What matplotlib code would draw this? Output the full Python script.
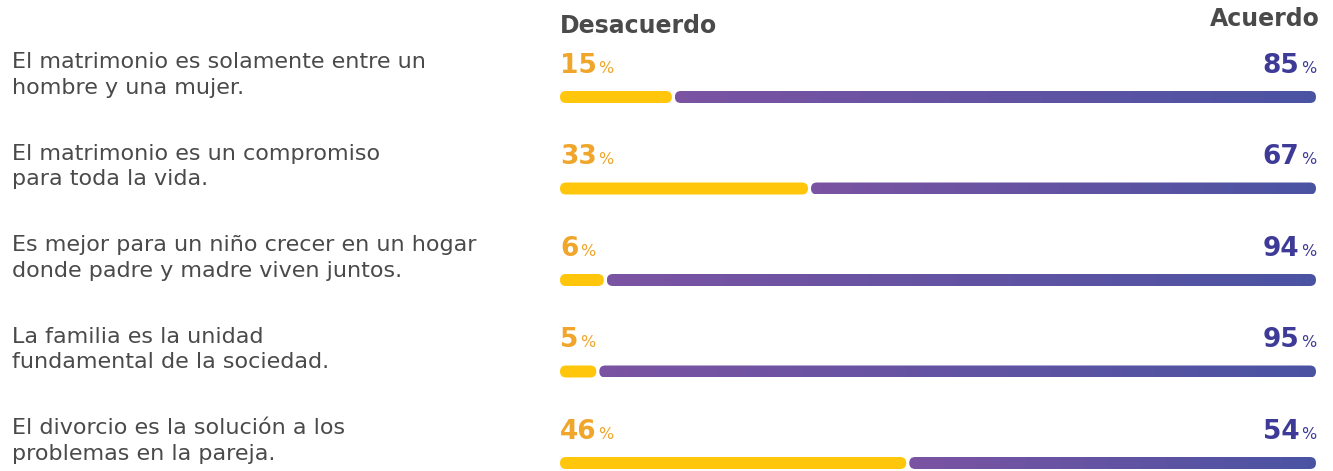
import matplotlib
matplotlib.use("Agg")
import matplotlib.pyplot as plt
import numpy as np
from matplotlib.patches import FancyBboxPatch
from matplotlib.colors import LinearSegmentedColormap
from matplotlib.offsetbox import TextArea, HPacker, AnnotationBbox
from matplotlib.transforms import blended_transform_factory

# Survey statements (two lines each) and answer shares in percent
statements = [
    "El matrimonio es solamente entre un\nhombre y una mujer.",
    "El matrimonio es un compromiso\npara toda la vida.",
    "Es mejor para un niño crecer en un hogar\ndonde padre y madre viven juntos.",
    "La familia es la unidad\nfundamental de la sociedad.",
    "El divorcio es la solución a los\nproblemas en la pareja.",
]
desacuerdo = [15, 33, 6, 5, 46]
acuerdo = [85, 67, 94, 95, 54]
header_left = "Desacuerdo"
header_right = "Acuerdo"

W, H = 1333, 471
DPI = 100
YELLOW = "#FFC60B"
YELLOW_TXT = "#F0A52B"
PURPLE_TXT = "#3E3B98"
GRAY = "#4A4A4A"
purple_cmap = LinearSegmentedColormap.from_list("morado", ["#7B54A3", "#4A53A2"])

plt.rcParams["font.family"] = ["DejaVu Sans"]

fig = plt.figure(figsize=(W / DPI, H / DPI), dpi=DPI)
fig.patch.set_facecolor("white")

# bar area in pixels
x_left_px, x_right_px = 560, 1316
row0_px, row_step_px = 97, 91.5
ax = fig.add_axes([x_left_px / W, 0, (x_right_px - x_left_px) / W, 1])
ax.set_axis_off()

xu = 100 / (x_right_px - x_left_px)   # data units per pixel (x)
yu = 1 / row_step_px                  # data units per pixel (y)
bar_h = 12 * yu
radius = 6 * xu
gap = 3 * xu
aspect = yu / xu


def rounded(x0, x1, yc):
    return FancyBboxPatch((x0, yc - bar_h / 2), x1 - x0, bar_h,
                          boxstyle=f"round,pad=0,rounding_size={radius}",
                          mutation_aspect=aspect, transform=ax.transData,
                          linewidth=0)


gradient = np.linspace(0, 1, 256).reshape(1, -1)
label_tr = blended_transform_factory(fig.transFigure, ax.transData)

for i, (d, a) in enumerate(zip(desacuerdo, acuerdo)):
    y = i
    split = d
    # disagreement segment
    p = rounded(0, split - gap / 2, y)
    p.set_facecolor(YELLOW)
    ax.add_patch(p)
    # agreement segment with horizontal gradient
    x0, x1 = split + gap / 2, split + a
    clip = rounded(x0, x1, y)
    clip.set_facecolor("none")
    ax.add_patch(clip)
    im = ax.imshow(gradient, cmap=purple_cmap, aspect="auto",
                   extent=(x0, x1, y + bar_h / 2, y - bar_h / 2),
                   interpolation="bilinear")
    im.set_clip_path(clip)

    # value labels
    for val, xpos, col, align in ((d, 0, YELLOW_TXT, 0), (a, 100, PURPLE_TXT, 1)):
        num = TextArea(f"{val}", textprops=dict(color=col, fontsize=19,
                                                fontweight="bold"))
        pct = TextArea("%", textprops=dict(color=col, fontsize=11.5))
        box = HPacker(children=[num, pct], align="baseline", pad=0, sep=1)
        ab = AnnotationBbox(box, (xpos, y - 0.34), xycoords="data",
                            box_alignment=(align, 0.5), frameon=False, pad=0)
        ax.add_artist(ab)

    # statement text on the left
    fig.text(12 / W, y - 0.24, statements[i], transform=label_tr, ha="left",
             va="center", fontsize=16, color=GRAY, linespacing=1.32)

ax.set_xlim(0, 100)
ax.set_ylim((H - row0_px) / row_step_px, -row0_px / row_step_px)

fig.text(x_left_px / W, 1 - 26 / H, header_left, ha="left", va="center",
         fontsize=17, fontweight="bold", color=GRAY)
fig.text(1320 / W, 1 - 19 / H, header_right, ha="right", va="center",
         fontsize=17, fontweight="bold", color=GRAY)

fig.savefig("out.png", dpi=DPI, facecolor="white")
